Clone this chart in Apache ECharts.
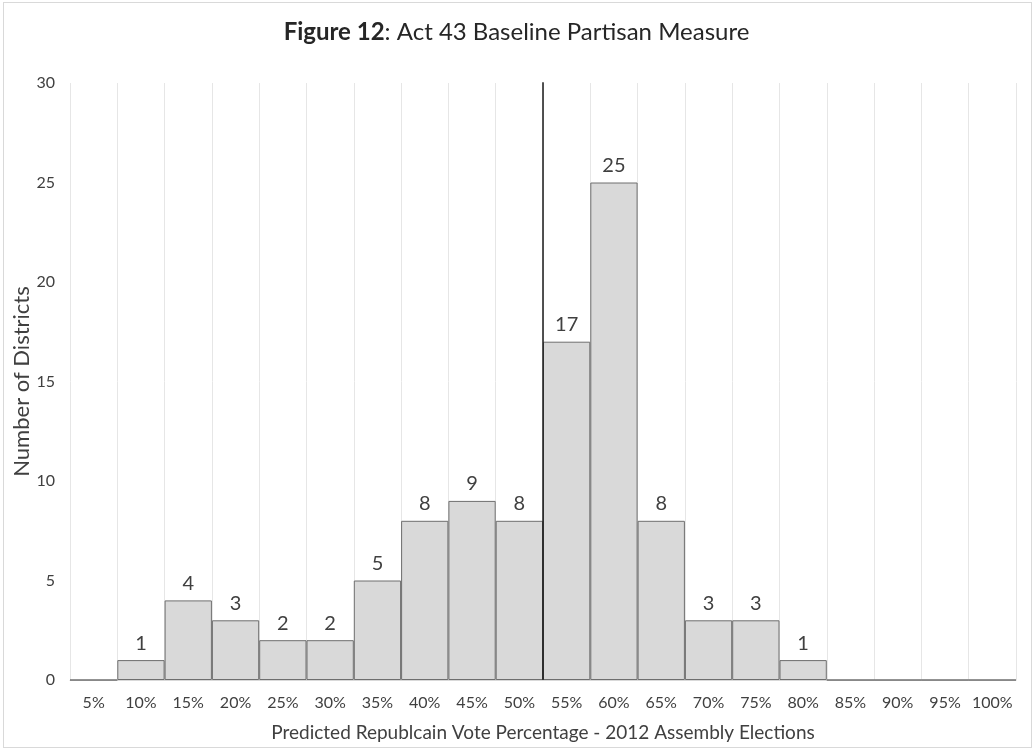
<!DOCTYPE html>
<html>
<head>
<meta charset="utf-8">
<script src="https://cdn.jsdelivr.net/npm/echarts@6/dist/echarts.min.js"></script>
<style>
html,body{margin:0;padding:0;background:#fff;}
#frame{position:absolute;left:3px;top:2px;width:1029px;height:746px;border:1px solid #d9d9d9;box-sizing:border-box;}
#chart{position:absolute;left:0;top:0;width:1033px;height:750px;}
</style>
</head>
<body>
<div id="frame"></div>
<div id="chart"></div>
<script>
const categories = ['5%','10%','15%','20%','25%','30%','35%','40%','45%','50%','55%','60%','65%','70%','75%','80%','85%','90%','95%','100%'];
const districtCounts = [0,1,4,3,2,2,5,8,9,8,17,25,8,3,3,1,0,0,0,0];
const yTicks = [0,5,10,15,20,25,30];
const fiftyPctBoundary = 10; // boundary between 50% and 55% bins
const textColor = '#404040';
const fontFam = 'Lato, "Open Sans", sans-serif';

const chart = echarts.init(document.getElementById('chart'));
chart.setOption({
  animation:false,
  backgroundColor:'transparent',
  title:{
    text:'{b|Figure 12}: Act 43 Baseline Partisan Measure',
    left:'center', top:15,
    textStyle:{fontFamily:fontFam,fontSize:24,color:'#262626',fontWeight:'normal',
      rich:{b:{fontFamily:fontFam,fontSize:24,fontWeight:'bold',color:'#262626'}}}
  },
  grid:{left:70,right:17,top:83,bottom:70,containLabel:false,outerBoundsMode:'none'},
  xAxis:[{
    type:'category', data:categories, boundaryGap:true,
    axisLine:{show:true,lineStyle:{color:'#d9d9d9'}},
    axisTick:{show:false},
    axisLabel:{color:textColor,fontFamily:fontFam,fontSize:16,margin:15,interval:0},
    splitLine:{show:true,interval:0,lineStyle:{color:'#e6e6e6'}},
    name:'Predicted Republcain Vote Percentage - 2012 Assembly Elections',
    nameLocation:'middle', nameGap:43, nameMoveOverlap:false,
    nameTextStyle:{color:textColor,fontFamily:fontFam,fontSize:19}
  },{
    type:'value', min:0, max:categories.length, show:false
  }],
  yAxis:{
    type:'value', min:yTicks[0], max:yTicks[yTicks.length-1], interval:5,
    axisLine:{show:false}, axisTick:{show:false},
    splitLine:{show:false},
    axisLabel:{color:textColor,fontFamily:fontFam,fontSize:16,margin:15},
    name:'Number of Districts', nameLocation:'middle', nameGap:37, nameMoveOverlap:false,
    nameTextStyle:{color:textColor,fontFamily:fontFam,fontSize:22}
  },
  series:[{
    type:'bar', data:districtCounts, barWidth:'100%', barCategoryGap:'0%',
    itemStyle:{color:'#d9d9d9',borderColor:'#6e6e6e',borderWidth:1},
    label:{show:true,position:'top',distance:7,color:textColor,fontFamily:fontFam,fontSize:20,
      formatter:p=>p.value>0?p.value:''}
  },{
    type:'line', xAxisIndex:1, data:[[fiftyPctBoundary,0],[fiftyPctBoundary,30.3]],
    symbol:'none', lineStyle:{color:'#1a1a1a',width:1.5}, silent:true, z:5
  }]
});
</script>
</body>
</html>
